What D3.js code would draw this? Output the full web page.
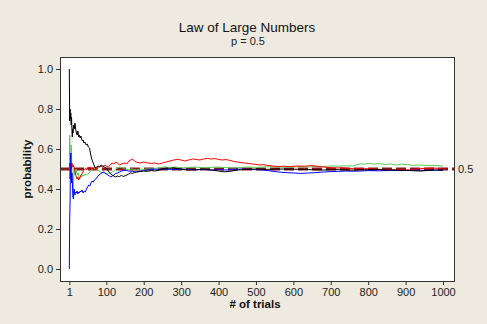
<!DOCTYPE html>
<html>
<head>
<meta charset="utf-8">
<script src="https://cdn.jsdelivr.net/npm/d3@7"></script>
<style>
  body { margin: 0; background: #eeeae0; }
  svg { display: block; }
  .axis text { font-family: "Liberation Sans", Arial, sans-serif; font-size: 11px; fill: #222; }
  .axis line { stroke: #333; }
  .axis path { display: none; }
</style>
</head>
<body>
<div id="chart"></div>
<script>
// running proportions, [trial, proportion]
const blackRun = [[1,1.0],[2,0.74],[3,0.8],[4,0.75],[5,0.78],[6,0.72],[7,0.76],[8,0.7],[9,0.66],[10,0.7],[11,0.68],[12,0.72],[14,0.7],[16,0.73],[18,0.7],[20,0.68],[22,0.67],[24,0.69],[26,0.66],[28,0.67],[30,0.655],[32,0.665],[34,0.65],[36,0.64],[38,0.645],[40,0.63],[43,0.635],[46,0.62],[49,0.625],[52,0.61],[55,0.605],[58,0.575],[61,0.55],[64,0.535],[67,0.52],[70,0.505],[74,0.51],[78,0.515],[82,0.51],[86,0.52],[90,0.515],[95,0.51],[100,0.505],[105,0.49],[110,0.48],[115,0.47],[120,0.465],[125,0.46],[130,0.465],[135,0.462],[140,0.468],[145,0.463],[150,0.466],[155,0.47],[160,0.475],[165,0.48],[170,0.478],[175,0.482],[180,0.485],[190,0.487],[200,0.49],[210,0.488],[220,0.492],[230,0.49],[240,0.494],[250,0.5],[260,0.505],[270,0.503],[280,0.506],[290,0.502],[300,0.498],[320,0.495],[340,0.496],[360,0.5],[380,0.495],[400,0.49],[415,0.486],[430,0.488],[450,0.495],[475,0.498],[500,0.5],[530,0.498],[560,0.5],[600,0.499],[640,0.497],[680,0.495],[720,0.497],[750,0.494],[780,0.496],[820,0.497],[860,0.495],[900,0.493],[940,0.49],[970,0.494],[1000,0.495]];

const redRun = [[1,0.5],[2,0.53],[3,0.45],[4,0.5],[5,0.52],[6,0.5],[8,0.53],[10,0.51],[12,0.52],[14,0.5],[16,0.49],[18,0.47],[20,0.46],[22,0.45],[24,0.46],[26,0.445],[28,0.45],[30,0.46],[33,0.47],[36,0.48],[39,0.49],[42,0.5],[45,0.505],[48,0.495],[51,0.51],[54,0.505],[57,0.51],[60,0.5],[63,0.505],[66,0.495],[70,0.5],[75,0.505],[80,0.51],[85,0.515],[90,0.51],[95,0.52],[100,0.515],[105,0.51],[110,0.52],[115,0.53],[120,0.525],[125,0.535],[130,0.53],[135,0.52],[140,0.525],[150,0.53],[155,0.525],[160,0.54],[165,0.545],[170,0.55],[175,0.54],[180,0.535],[190,0.53],[200,0.535],[210,0.53],[220,0.528],[230,0.53],[240,0.525],[250,0.53],[260,0.535],[270,0.54],[280,0.545],[290,0.548],[300,0.545],[310,0.54],[320,0.545],[330,0.55],[340,0.548],[350,0.545],[360,0.55],[370,0.553],[380,0.55],[390,0.552],[400,0.548],[410,0.545],[420,0.547],[430,0.543],[440,0.538],[450,0.535],[460,0.532],[470,0.53],[480,0.528],[490,0.525],[500,0.523],[510,0.52],[520,0.522],[530,0.518],[545,0.515],[560,0.512],[575,0.514],[590,0.512],[610,0.515],[630,0.514],[650,0.517],[670,0.512],[690,0.508],[710,0.505],[730,0.506],[750,0.503],[770,0.5],[790,0.502],[810,0.5],[830,0.498],[850,0.495],[870,0.497],[890,0.494],[910,0.496],[930,0.5],[950,0.503],[970,0.505],[990,0.503],[1000,0.502]];

const greenRun = [[1,0.5],[2,0.67],[3,0.6],[4,0.5],[5,0.55],[6,0.62],[7,0.57],[8,0.5],[9,0.45],[10,0.4],[11,0.36],[12,0.42],[13,0.46],[14,0.5],[15,0.47],[17,0.49],[19,0.5],[21,0.48],[23,0.47],[25,0.48],[27,0.46],[29,0.45],[31,0.47],[34,0.46],[37,0.47],[40,0.465],[43,0.475],[46,0.47],[50,0.475],[54,0.48],[58,0.49],[62,0.5],[66,0.495],[70,0.505],[75,0.5],[80,0.49],[85,0.485],[90,0.48],[95,0.485],[100,0.475],[105,0.48],[110,0.478],[115,0.485],[120,0.49],[125,0.5],[130,0.505],[135,0.51],[140,0.508],[145,0.505],[150,0.5],[160,0.498],[170,0.5],[180,0.495],[190,0.5],[200,0.498],[210,0.5],[225,0.503],[240,0.505],[255,0.51],[270,0.508],[285,0.51],[300,0.505],[320,0.508],[340,0.51],[360,0.505],[380,0.508],[400,0.51],[420,0.507],[440,0.505],[460,0.508],[480,0.51],[500,0.508],[520,0.51],[540,0.512],[560,0.51],[580,0.508],[600,0.51],[620,0.512],[640,0.51],[660,0.513],[680,0.512],[700,0.515],[720,0.514],[740,0.516],[760,0.515],[770,0.522],[780,0.526],[790,0.524],[800,0.528],[815,0.525],[830,0.527],[845,0.523],[860,0.525],[875,0.52],[890,0.524],[905,0.522],[920,0.518],[940,0.52],[960,0.517],[980,0.518],[1000,0.515]];

const blueRun = [[1,0.0],[2,0.25],[3,0.33],[4,0.5],[5,0.58],[6,0.5],[7,0.43],[8,0.48],[9,0.44],[10,0.4],[11,0.36],[12,0.35],[13,0.38],[14,0.4],[16,0.37],[18,0.385],[20,0.38],[22,0.39],[24,0.375],[26,0.385],[28,0.38],[30,0.39],[32,0.385],[35,0.395],[38,0.38],[41,0.39],[44,0.385],[47,0.4],[50,0.41],[53,0.42],[56,0.415],[59,0.43],[62,0.44],[65,0.435],[68,0.445],[72,0.45],[76,0.46],[80,0.47],[84,0.475],[88,0.48],[92,0.485],[96,0.48],[100,0.475],[104,0.47],[108,0.465],[112,0.46],[116,0.465],[120,0.47],[125,0.478],[130,0.48],[135,0.485],[140,0.49],[145,0.492],[150,0.495],[160,0.49],[170,0.488],[180,0.485],[190,0.49],[200,0.492],[210,0.495],[220,0.5],[240,0.498],[260,0.5],[280,0.497],[300,0.5],[320,0.498],[340,0.496],[360,0.498],[380,0.495],[400,0.497],[420,0.495],[440,0.497],[460,0.5],[480,0.498],[500,0.497],[520,0.495],[540,0.49],[560,0.485],[580,0.482],[600,0.48],[620,0.478],[640,0.48],[660,0.482],[680,0.485],[700,0.487],[720,0.488],[740,0.49],[760,0.489],[780,0.49],[800,0.492],[830,0.491],[860,0.493],[890,0.492],[920,0.494],[950,0.493],[980,0.495],[1000,0.494]];

const xTicks = [1, 100, 200, 300, 400, 500, 600, 700, 800, 900, 1000];
const yTicks = [0, 0.2, 0.4, 0.6, 0.8, 1.0];
const refValue = 0.5;

const width = 487, height = 324;
const box = {left: 60, right: 454, top: 57, bottom: 281};

const svg = d3.select("#chart").append("svg")
    .attr("width", width)
    .attr("height", height);

svg.append("rect")
    .attr("width", width).attr("height", height)
    .attr("fill", "#eeeae0");

// plot area
svg.append("rect")
    .attr("x", box.left).attr("y", box.top)
    .attr("width", box.right - box.left).attr("height", box.bottom - box.top)
    .attr("fill", "#fff");

const x = d3.scaleLinear().domain([1, 1000]).range([69.3, 443]);
const y = d3.scaleLinear().domain([0, 1]).range([269, 69]);

svg.append("g")
    .attr("class", "axis")
    .attr("transform", "translate(" + box.left + ",0)")
    .call(d3.axisLeft(y).tickValues(yTicks).tickFormat(d3.format(".1f")).tickSize(4).tickPadding(3));

svg.append("g")
    .attr("class", "axis")
    .attr("transform", "translate(0," + box.bottom + ")")
    .call(d3.axisBottom(x).tickValues(xTicks).tickFormat(d3.format("d")).tickSize(4).tickPadding(3));

// reference line
svg.append("line")
    .attr("x1", box.left).attr("x2", box.right)
    .attr("y1", y(refValue)).attr("y2", y(refValue))
    .attr("stroke", "#8a1a1a")
    .attr("stroke-width", 3)
    .attr("stroke-dasharray", "10,4");

const line = d3.line()
    .x(d => x(d[0]))
    .y(d => y(d[1]));

const runs = [
    {data: greenRun, color: "#55cc55"},
    {data: redRun, color: "#ff0000"},
    {data: blueRun, color: "#0000ff"},
    {data: blackRun, color: "#000000"}
];

svg.selectAll(".run")
    .data(runs)
    .enter().append("path")
    .attr("class", "run")
    .attr("fill", "none")
    .attr("stroke", d => d.color)
    .attr("stroke-width", 1)
    .attr("d", d => line(d.data));

// box border on top
svg.append("rect")
    .attr("x", box.left + 0.5).attr("y", box.top + 0.5)
    .attr("width", box.right - box.left).attr("height", box.bottom - box.top)
    .attr("fill", "none")
    .attr("stroke", "#333");

svg.append("text")
    .attr("x", box.right + 4).attr("y", y(refValue) + 4)
    .attr("font-family", "Liberation Sans, Arial, sans-serif")
    .attr("font-size", 11).attr("fill", "#222")
    .text("0.5");

// titles
svg.append("text")
    .attr("x", 247).attr("y", 32)
    .attr("text-anchor", "middle")
    .attr("font-family", "Liberation Sans, Arial, sans-serif")
    .attr("font-size", 13.5).attr("fill", "#111")
    .text("Law of Large Numbers");

svg.append("text")
    .attr("x", 248).attr("y", 45)
    .attr("text-anchor", "middle")
    .attr("font-family", "Liberation Sans, Arial, sans-serif")
    .attr("font-size", 11).attr("fill", "#222")
    .text("p = 0.5");

svg.append("text")
    .attr("x", 255).attr("y", 308)
    .attr("text-anchor", "middle")
    .attr("font-family", "Liberation Sans, Arial, sans-serif")
    .attr("font-size", 11.5).attr("font-weight", "bold").attr("fill", "#111")
    .text("# of trials");

svg.append("text")
    .attr("transform", "translate(31,169) rotate(-90)")
    .attr("text-anchor", "middle")
    .attr("font-family", "Liberation Sans, Arial, sans-serif")
    .attr("font-size", 11.5).attr("font-weight", "bold").attr("fill", "#111")
    .text("probability");
</script>
</body>
</html>
